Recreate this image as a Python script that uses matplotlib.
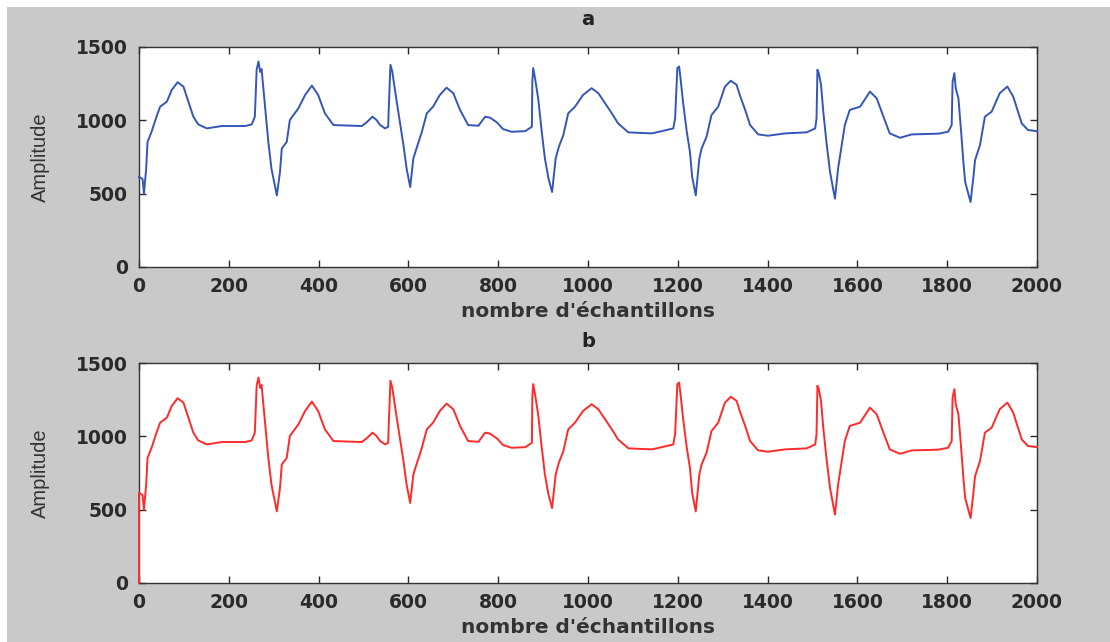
import matplotlib
matplotlib.use("Agg")
import matplotlib.pyplot as plt
from matplotlib.patches import Rectangle

# Samples (x) and amplitudes (y)
samples = [0, 8, 11, 16, 19, 28, 39, 47, 62, 73, 86, 99, 110, 121, 132, 151, 184, 236, 251, 258,
           262, 266, 270, 273, 281, 288, 295, 307, 314, 318, 329, 336, 355, 370, 385, 399, 414, 433,
           496, 507, 520, 529, 537, 548, 555, 556, 560, 564, 574, 581, 589, 596, 604, 611, 618, 630,
           641, 655, 670, 685, 700, 715, 733, 756, 771, 782, 797, 811, 830, 860, 875, 876, 878, 882,
           889, 897, 904, 912, 920, 928, 935, 945, 956, 971, 989, 1008, 1023, 1038, 1053, 1067,
           1090, 1142, 1164, 1190, 1194, 1199, 1203, 1206, 1212, 1220, 1227, 1232, 1240, 1248,
           1253, 1264, 1275, 1290, 1305, 1318, 1331, 1338, 1350, 1361, 1379, 1401, 1439, 1487,
           1506, 1509, 1511, 1514, 1519, 1524, 1531, 1539, 1550, 1557, 1565, 1572, 1583, 1606,
           1628, 1643, 1658, 1672, 1695, 1721, 1780, 1802, 1810, 1812, 1816, 1819, 1825, 1831,
           1836, 1840, 1852, 1858, 1862, 1873, 1884, 1899, 1917, 1934, 1947, 1966, 1980, 2000]
amplitude = [614, 600, 500, 671, 853, 922, 1025, 1093, 1127, 1207, 1260, 1230, 1127, 1025, 972, 945, 961, 961, 972, 1025,
             1345, 1401, 1330, 1350, 1082, 853, 671, 488, 648, 808, 853, 1002, 1082, 1173, 1237, 1173, 1048, 968,
             961, 986, 1025, 1002, 968, 945, 956, 1059, 1379, 1333, 1127, 990, 831, 671, 545, 740, 808, 922,
             1048, 1093, 1173, 1223, 1185, 1071, 968, 963, 1025, 1018, 986, 940, 922, 926, 956, 1264, 1356, 1288,
             1150, 922, 740, 603, 511, 740, 819, 899, 1048, 1093, 1173, 1219, 1185, 1116, 1048, 979,
             918, 911, 926, 945, 1014, 1356, 1367, 1288, 1116, 922, 785, 614, 488, 740,
             808, 888, 1036, 1093, 1230, 1270, 1242, 1173, 1071, 968, 904, 895, 911, 918,
             945, 1014, 1345, 1322, 1242, 1059, 853, 648, 466, 671, 831, 968, 1071, 1093,
             1196, 1150, 1025, 911, 881, 904, 909, 922, 968, 1264, 1322, 1219, 1150, 922,
             717, 580, 443, 603, 728, 831, 1025, 1059, 1185, 1230, 1162, 979, 934, 926]

# Panel b: same signal, starting from 0 at the first sample
samples_b = [0] + samples
amplitude_b = [0] + amplitude

titles = ["a", "b"]
xticks = list(range(0, 2001, 200))
yticks = [0, 500, 1000, 1500]
xlabel = "nombre d'échantillons"
ylabel = "Amplitude"

plt.rcParams['font.family'] = ['DejaVu Sans']

W, H = 1110, 642
fig = plt.figure(figsize=(W / 100, H / 100), dpi=100, facecolor='white')
fig.patches.append(Rectangle((7 / W, 0), 1 - 7 / W, 1 - 7 / H, transform=fig.transFigure,
                             facecolor='#c9c9c9', edgecolor='none', zorder=-10))

left = 139 / W
width = 898 / W
height = 220 / H
bottoms = [1 - 267 / H, 1 - 583 / H]
title_pads = [16, 11.5]
colors = ['#3556b8', '#ff2a2a']
data = [(samples, amplitude), (samples_b, amplitude_b)]

for i in range(2):
    ax = fig.add_axes([left, bottoms[i], width, height])
    ax.set_facecolor('white')
    x, y = data[i]
    ax.plot(x, y, color=colors[i], lw=1.4, zorder=3, clip_on=False)
    ax.set_xlim(0, 2000)
    ax.set_ylim(0, 1500)
    ax.set_xticks(xticks)
    ax.set_yticks(yticks)
    ax.tick_params(direction='in', length=5, width=1, top=True, right=True,
                   labelsize=13.5, colors='#2a2a2a')
    ax.tick_params(axis='y', pad=8)
    ax.tick_params(axis='x', pad=7)
    for lab in ax.get_xticklabels() + ax.get_yticklabels():
        lab.set_fontweight('bold')
    for s in ax.spines.values():
        s.set_color('#333333')
        s.set_linewidth(1)
    ax.set_title(titles[i], fontsize=14, fontweight='bold', color='#222222', pad=title_pads[i])
    ax.set_xlabel(xlabel, fontsize=14.5, fontweight='bold', color='#333333', labelpad=4.5)
    ax.set_ylabel(ylabel, fontsize=14.5, color='#333333', labelpad=18.5,
                  family=['Liberation Sans', 'DejaVu Sans'])

fig.savefig('out.png', dpi=100, facecolor=fig.get_facecolor())
